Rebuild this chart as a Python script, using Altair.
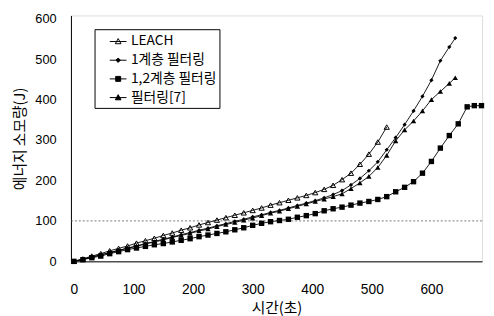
import altair as alt
import pandas as pd

series_names = ["LEACH", "1계층 필터링", "1,2계층 필터링", "필터링[7]"]

leach_x = [0, 15, 30, 45, 60, 75, 90, 105, 120, 135, 150, 165, 180, 195, 210, 225, 240, 255, 270, 285,
           300, 315, 330, 345, 360, 375, 390, 405, 420, 435, 450, 465, 480, 495, 510, 525]
leach_y = [0, 6, 13, 19, 26, 32, 38, 45, 51, 57, 64, 70, 77, 83, 90, 96, 102, 108, 114, 120,
           126, 132, 139, 145, 151, 157, 163, 170, 178, 188, 202, 218, 240, 265, 295, 332]

f1_x = [0, 15, 30, 45, 60, 75, 90, 105, 120, 135, 150, 165, 180, 195, 210, 225, 240, 255, 270, 285,
        300, 315, 330, 345, 360, 375, 390, 405, 420, 435, 450, 465, 480, 495, 510, 525, 540, 555,
        570, 585, 600, 615, 630, 640]
f1_y = [0, 5, 11, 16, 22, 27, 33, 38, 44, 49, 55, 60, 66, 71, 77, 82, 88, 93, 99, 104,
        110, 115, 121, 126, 132, 138, 144, 150, 157, 165, 175, 189, 205, 224, 246, 276, 306, 338,
        372, 408, 448, 496, 530, 552]

f12_x = [0, 15, 30, 45, 60, 75, 90, 105, 120, 135, 150, 165, 180, 195, 210, 225, 240, 255, 270, 285,
         300, 315, 330, 345, 360, 375, 390, 405, 420, 435, 450, 465, 480, 495, 510, 525, 540, 555,
         570, 585, 600, 615, 630, 645, 660, 672, 684]
f12_y = [0, 4, 9, 13, 19, 24, 29, 33, 37, 41, 44, 48, 52, 56, 61, 65, 69, 73, 78, 83,
         89, 94, 98, 101, 104, 109, 113, 118, 125, 130, 134, 139, 144, 148, 153, 160, 172, 183,
         197, 218, 247, 280, 311, 340, 382, 385, 385]

f7_x = [0, 15, 30, 45, 60, 75, 90, 105, 120, 135, 150, 165, 180, 195, 210, 225, 240, 255, 270, 285,
        300, 315, 330, 345, 360, 375, 390, 405, 420, 435, 450, 465, 480, 495, 510, 525, 540, 555,
        570, 585, 600, 615, 630, 640]
f7_y = [0, 5, 10, 16, 21, 27, 32, 37, 43, 48, 53, 59, 64, 69, 75, 80, 86, 91, 96, 102,
        107, 113, 119, 124, 130, 136, 142, 148, 154, 160, 167, 180, 194, 210, 232, 262, 298, 325,
        347, 372, 400, 420, 440, 454]

x_ticks = [0, 100, 200, 300, 400, 500, 600]
y_ticks = [0, 100, 200, 300, 400, 500, 600]
grid_vals = [100]

rows = []
for name, xs, ys in [(series_names[0], leach_x, leach_y), (series_names[1], f1_x, f1_y),
                     (series_names[2], f12_x, f12_y), (series_names[3], f7_x, f7_y)]:
    for a, b in zip(xs, ys):
        rows.append({"x": a, "y": b, "s": name})
df = pd.DataFrame(rows)
grid_df = pd.DataFrame({"g": grid_vals})

KFONT = "Noto Sans CJK KR"
xs = alt.Scale(domain=[-5, 685], nice=False, zero=False)
ys = alt.Scale(domain=[0, 608], nice=False)

X = alt.X("x:Q", scale=xs, axis=alt.Axis(values=x_ticks, title="시간(초)", grid=False, ticks=False,
                                         tickSize=0, labelPadding=22, labelFontSize=14,
                                         labelFont="Liberation Sans", labelColor="black",
                                         titleFont=KFONT, titleFontSize=15, titleFontWeight="normal",
                                         titleColor="black", titlePadding=4, domainColor="black"))
Y = alt.Y("y:Q", scale=ys, axis=alt.Axis(values=y_ticks, title="에너지 소모량(J)", grid=False, ticks=False,
                                         tickSize=0, labelPadding=15, labelFontSize=13,
                                         labelFont="Liberation Sans", labelColor="black",
                                         titleFont=KFONT, titleFontSize=15, titleFontWeight="normal",
                                         titleColor="black", titlePadding=8, domainColor="black"))

base = alt.Chart(df)
grid = alt.Chart(grid_df).mark_rule(color="#555", strokeDash=[2, 2], strokeWidth=0.8).encode(
    y=alt.Y("g:Q", scale=ys))
lines = base.mark_line(color="black", strokeWidth=0.9).encode(x=X, y=Y, detail="s:N")

def pts(name, **kw):
    return base.transform_filter(alt.datum.s == name).mark_point(color="black", opacity=1, **kw).encode(x=X, y=Y)

p_leach = pts(series_names[0], shape="triangle-up", filled=False, size=28, strokeWidth=1)
p_f1 = pts(series_names[1], shape="diamond", filled=True, size=18)
p_f12 = pts(series_names[2], shape="square", filled=True, size=30)
p_f7 = pts(series_names[3], shape="triangle-up", filled=True, size=30)

legend_paths = [
    "M0.33,0L2.22,0M1.28,-0.33L1.6,0.25L0.96,0.25Z",
    "M0.33,0L2.22,0M1.28,-0.25L1.53,0L1.28,0.25L1.03,0Z",
    "M0.33,0L2.22,0M1.0,-0.28L1.56,-0.28L1.56,0.28L1.0,0.28Z",
    "M0.33,0L2.22,0M1.28,-0.33L1.6,0.25L0.96,0.25Z",
]
legend_fills = ["white", "black", "black", "black"]
legend_strokes = ["black", "black", "black", "black"]
leg = alt.Legend(orient="none", legendX=24, legendY=14, title=None,
                 strokeColor="black",
                 fillColor="white", padding=3, symbolSize=324, labelOffset=15, rowPadding=2,
                 labelFont=KFONT, labelFontSize=14, labelFontWeight="normal", labelColor="black",
                 labelLimit=300,
                 symbolStrokeWidth=1, symbolOpacity=1, cornerRadius=0)
legend_layer = base.transform_filter("false").mark_point(
    filled=True, opacity=1, size=324, strokeWidth=1).encode(
    x=X, y=Y,
    shape=alt.Shape("s:N", scale=alt.Scale(domain=series_names, range=legend_paths), legend=leg),
    fill=alt.Fill("s:N", scale=alt.Scale(domain=series_names, range=legend_fills), legend=leg),
    stroke=alt.Stroke("s:N", scale=alt.Scale(domain=series_names, range=legend_strokes), legend=leg),
)

chart = alt.layer(grid, lines, p_leach, p_f1, p_f12, p_f7, legend_layer).properties(
    width=418, height=250,
    autosize=alt.AutoSizeParams(type="none"),
    padding={"left": 64, "top": 5, "right": 4, "bottom": 53},
).configure_view(stroke="black", strokeWidth=1).configure(background="white")

chart.save("out.html", embed_options={"renderer": "svg", "actions": False})
